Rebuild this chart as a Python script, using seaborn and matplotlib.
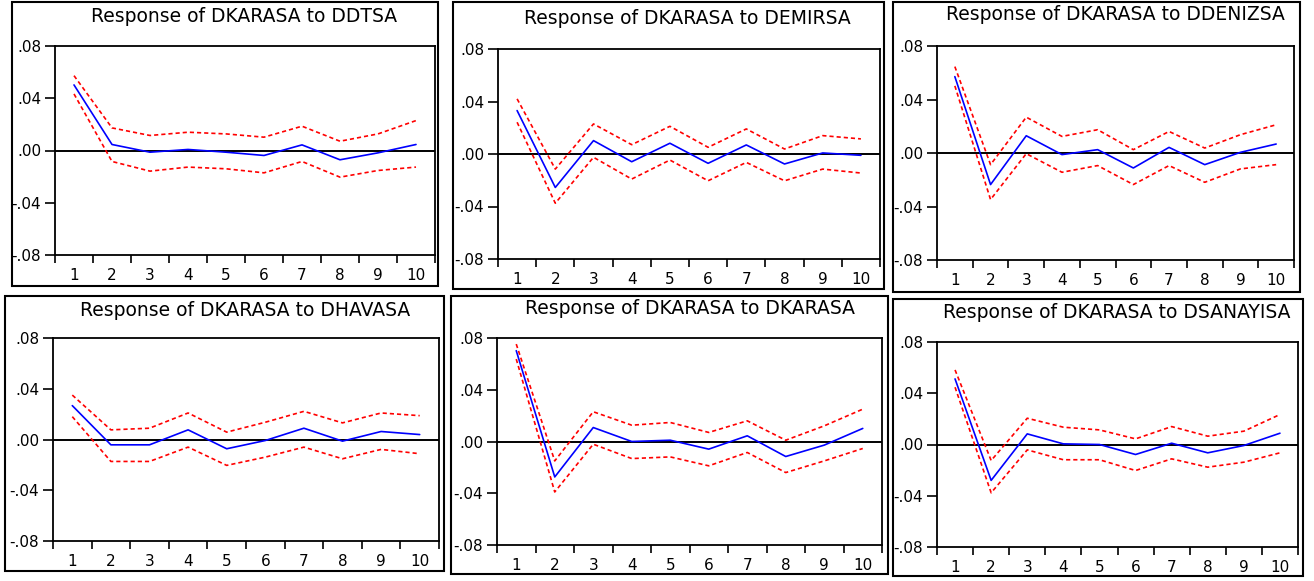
import numpy as np
import pandas as pd
import matplotlib
matplotlib.use("Agg")
import matplotlib.pyplot as plt
from matplotlib.patches import Rectangle
import seaborn as sns

# DATOS: respuestas impulso (EViews), pasos 1..10
pasos = [1, 2, 3, 4, 5, 6, 7, 8, 9, 10]
titulos = ["Response of DKARASA to DDTSA", "Response of DKARASA to DEMIRSA",
           "Response of DKARASA to DDENIZSA", "Response of DKARASA to DHAVASA",
           "Response of DKARASA to DKARASA", "Response of DKARASA to DSANAYISA"]
ytick_vals = [0.08, 0.04, 0.0, -0.04, -0.08]
ytick_labels = [".08", ".04", ".00", "-.04", "-.08"]

ddtsa_resp = [0.0502, 0.0046, -0.0013, 0.0008, -0.0013, -0.0038, 0.0043, -0.0071, -0.0018, 0.0046]
ddtsa_up = [0.0573, 0.0173, 0.0115, 0.0140, 0.0127, 0.0102, 0.0186, 0.0071, 0.0127, 0.0229]
ddtsa_lo = [0.0433, -0.0084, -0.0158, -0.0127, -0.0140, -0.0171, -0.0084, -0.0204, -0.0153, -0.0127]

demirsa_resp = [0.0331, -0.0255, 0.0102, -0.0059, 0.0082, -0.0071, 0.0069, -0.0076, 0.0008, -0.0010]
demirsa_up = [0.0420, -0.0115, 0.0229, 0.0071, 0.0211, 0.0051, 0.0191, 0.0038, 0.0140, 0.0115]
demirsa_lo = [0.0242, -0.0375, -0.0025, -0.0191, -0.0046, -0.0204, -0.0064, -0.0204, -0.0115, -0.0145]

ddenizsa_resp = [0.0571, -0.0236, 0.0129, -0.0012, 0.0025, -0.0112, 0.0042, -0.0087, 0.0005, 0.0067]
ddenizsa_up = [0.0646, -0.0087, 0.0268, 0.0124, 0.0174, 0.0025, 0.0161, 0.0037, 0.0137, 0.0211]
ddenizsa_lo = [0.0502, -0.0348, -0.0005, -0.0144, -0.0094, -0.0236, -0.0094, -0.0219, -0.0119, -0.0087]

dhavasa_resp = [0.0267, -0.0042, -0.0042, 0.0076, -0.0073, -0.0008, 0.0089, -0.0013, 0.0063, 0.0039]
dhavasa_up = [0.0350, 0.0076, 0.0089, 0.0209, 0.0058, 0.0136, 0.0222, 0.0131, 0.0209, 0.0188]
dhavasa_lo = [0.0180, -0.0173, -0.0173, -0.0060, -0.0204, -0.0139, -0.0060, -0.0152, -0.0078, -0.0112]

dkarasa_resp = [0.0702, -0.0274, 0.0108, 0.0000, 0.0010, -0.0059, 0.0044, -0.0116, -0.0028, 0.0101]
dkarasa_up = [0.0753, -0.0150, 0.0230, 0.0126, 0.0147, 0.0070, 0.0160, 0.0010, 0.0121, 0.0250]
dkarasa_lo = [0.0637, -0.0390, -0.0021, -0.0132, -0.0119, -0.0188, -0.0085, -0.0240, -0.0150, -0.0054]

dsanayisa_resp = [0.0512, -0.0280, 0.0083, 0.0005, 0.0000, -0.0078, 0.0010, -0.0065, -0.0008, 0.0088]
dsanayisa_up = [0.0582, -0.0125, 0.0205, 0.0135, 0.0114, 0.0044, 0.0140, 0.0065, 0.0104, 0.0234]
dsanayisa_lo = [0.0447, -0.0377, -0.0042, -0.0119, -0.0119, -0.0203, -0.0112, -0.0177, -0.0138, -0.0065]

series = [(ddtsa_resp, ddtsa_up, ddtsa_lo), (demirsa_resp, demirsa_up, demirsa_lo),
          (ddenizsa_resp, ddenizsa_up, ddenizsa_lo), (dhavasa_resp, dhavasa_up, dhavasa_lo),
          (dkarasa_resp, dkarasa_up, dkarasa_lo), (dsanayisa_resp, dsanayisa_up, dsanayisa_lo)]

# posiciones en pixeles (izq, arriba, der, abajo)
W, H = 1314, 581
ejes_px = [(55, 46, 435, 255), (498, 49, 880, 259), (937, 46, 1294, 260),
           (53, 338, 439, 541), (497, 338, 882, 545), (937, 342, 1298, 547)]
marcos_px = [(12, 2, 438, 286), (453, 2, 884, 289), (893, 2, 1300, 292),
             (5, 296, 444, 571), (451, 296, 888, 574), (893, 299, 1303, 576)]
titulo_px = [(244, 17), (687, 18), (1115, 15), (245, 310), (690, 309), (1117, 313)]

sns.set_style("white")
plt.rcParams['font.family'] = ['DejaVu Sans']
plt.rcParams['text.color'] = 'black'
plt.rcParams['xtick.color'] = 'black'
plt.rcParams['ytick.color'] = 'black'
plt.rcParams['xtick.labelcolor'] = 'black'
plt.rcParams['ytick.labelcolor'] = 'black'

fig = plt.figure(figsize=(W / 100, H / 100), dpi=100)
fig.patch.set_facecolor("white")

for i in range(6):
    resp, up, lo = series[i]
    l, t, r, b = ejes_px[i]
    ax = fig.add_axes([l / W, 1 - b / H, (r - l) / W, (b - t) / H])
    df = pd.DataFrame({"paso": pasos, "resp": resp, "up": up, "lo": lo})
    ax.axhline(0, color="black", lw=1.4, zorder=1)
    sns.lineplot(data=df, x="paso", y="up", ax=ax, color="#ff0000", lw=1.2,
                 linestyle=(0, (2.5, 1.8)), zorder=2)
    sns.lineplot(data=df, x="paso", y="lo", ax=ax, color="#ff0000", lw=1.2,
                 linestyle=(0, (2.5, 1.8)), zorder=2)
    sns.lineplot(data=df, x="paso", y="resp", ax=ax, color="#0000ff", lw=1.2, zorder=3)
    ax.set_xlim(0.5, 10.5)
    ax.set_ylim(-0.08, 0.08)
    ax.set_xticks(np.arange(0.5, 11, 1))
    ax.set_xticklabels([])
    ax.set_xticks(pasos, minor=True)
    ax.set_xticklabels([str(p) for p in pasos], minor=True)
    ax.set_yticks(ytick_vals)
    ax.set_yticklabels(ytick_labels)
    ax.tick_params(axis="x", which="major", direction="out", length=6, width=1.2,
                   bottom=True, color="black")
    ax.tick_params(axis="x", which="minor", length=0, pad=9, labelsize=11)
    ax.tick_params(axis="y", direction="out", length=7, width=1.2, left=True,
                   color="black", labelsize=11, pad=3)
    ax.set_xlabel("")
    ax.set_ylabel("")
    for s in ax.spines.values():
        s.set_color("black")
        s.set_linewidth(1.3)

    fl, ft, fr, fb = marcos_px[i]
    fig.patches.append(Rectangle((fl / W, 1 - fb / H), (fr - fl) / W, (fb - ft) / H,
                                 transform=fig.transFigure, fill=False,
                                 edgecolor="black", lw=1.5))
    tx, ty = titulo_px[i]
    fig.text(tx / W, 1 - ty / H, titulos[i], ha="center", va="center",
             fontsize=13.5, color="black")

fig.savefig("out.png", dpi=100)
